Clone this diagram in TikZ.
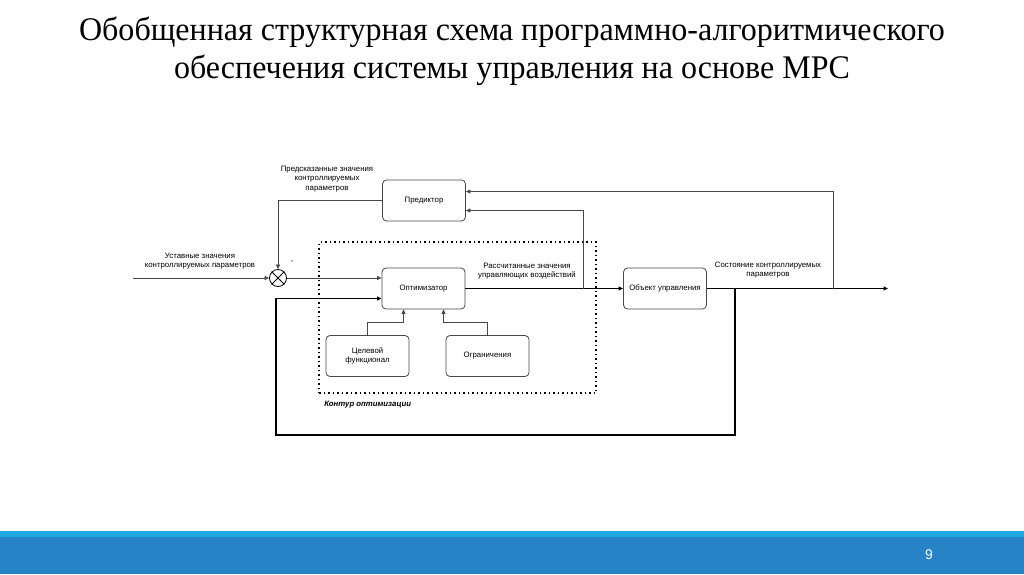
\documentclass[tikz,border=0pt]{standalone}
\usepackage{fontspec}
\setmainfont{Liberation Sans}
\newfontfamily\titlefont[FakeStretch=0.97]{Liberation Serif}
\usetikzlibrary{arrows.meta, positioning}
\definecolor{linegray}{RGB}{72,72,72}
\definecolor{barlight}{RGB}{32,168,226}
\definecolor{bardark}{RGB}{38,131,198}
\tikzset{
  blk/.style={rectangle, rounded corners=4pt, draw=linegray, line width=0.8pt, fill=white,
              minimum width=83pt, minimum height=41pt, align=center, font=\fontsize{7.8}{9.5}\selectfont},
  lbl/.style={align=center, inner sep=1pt, font=\fontsize{7.8}{9.5}\selectfont},
  sumnode/.style={circle, draw=black, line width=0.8pt, minimum size=17pt, inner sep=0pt},
  arr/.style={-{Triangle[length=4.5pt, width=4pt]}, line width=0.7pt, draw=linegray},
  mainarr/.style={-{Triangle[length=4.5pt, width=4pt]}, line width=1.2pt, draw=black},
  loopframe/.style={rectangle, draw=black, line width=1.5pt, dash pattern=on 1.5pt off 3pt}
}

\begin{document}
\begin{tikzpicture}[x=1pt, y=-1pt]
\useasboundingbox (0,0) rectangle (1024,574);
\fill[white] (0,0) rectangle (1024,574);
% title and footer
\node[align=center, font=\titlefont\fontsize{33}{38}\selectfont] (title) at (512,51.5) {Обобщенная структурная схема программно-алгоритмического\\обеспечения системы управления на основе MPC};
\fill[barlight] (0,531) rectangle (1024,537);
\fill[bardark] (0,537) rectangle (1024,574);
\node[text=white, font=\fontsize{14}{16}\selectfont] (pgnum) at (929,555) {9};
% blocks
\node[loopframe, minimum width=277pt, minimum height=151pt] (cont) at (457.5,317.5) {};
\node[blk] (pred) at (424,200.5) {Предиктор};
\node[blk] (opt) at (423.5,288.5) {Оптимизатор};
\node[blk] (obj) at (665,288.5) {Объект управления};
\node[blk] (goal) at (367.5,356) {Целевой\\функционал};
\node[blk] (cons) at (487.5,356) {Ограничения};
\node[sumnode] (sum) at (278,278) {};
\draw[line width=0.8pt] (sum.north west) -- (sum.south east) (sum.north east) -- (sum.south west);
\coordinate (in) at (133,278);
\coordinate (out) at (888,288.5);
\coordinate (tap1) at (583,288.5);
\coordinate (tap2) at (833,288.5);
\coordinate (tap3) at (735,288.5);
% connectors
\draw[arr] (in) -- (sum);
\draw[arr] (sum) -- (sum -| opt.west);
\draw[arr] (pred.west) -| (sum.north);
\draw[mainarr] (opt.east) -- (obj.west);
\draw[arr] (tap1) |- ([yshift=-10pt]pred.east);
\draw[mainarr] (obj.east) -- (out);
\draw[arr] (tap2) |- ([yshift=9pt]pred.east);
\draw[mainarr] (tap3) -- (735,435) -| (276,298.5) -- ([yshift=-10pt]opt.west);
\draw[arr] (goal.north) -- ++(0,-13) -| ([xshift=-20pt]opt.south);
\draw[arr] (cons.north) -- ++(0,-13) -| ([xshift=20pt]opt.south);
% labels
\node[lbl] (lset) at (200,261) {Уставные значения\\контроллируемых параметров};
\node[lbl] (lpred) at (327,179) {Предсказанные значения\\контроллируемых\\параметров};
\node[lbl] (lminus) at (292,262) {-};
\node[lbl] (lctrl) at (527,271) {Рассчитанные значения\\управляющих воздействий};
\node[lbl] (lstate) at (768,270) {Состояние контроллируемых\\параметров};
\node[lbl, anchor=north west, font=\fontsize{7.8}{9.5}\selectfont\bfseries\itshape] (lcont) at ([xshift=5pt, yshift=-6pt]cont.south west) {Контур оптимизации};
\end{tikzpicture}
\end{document}
